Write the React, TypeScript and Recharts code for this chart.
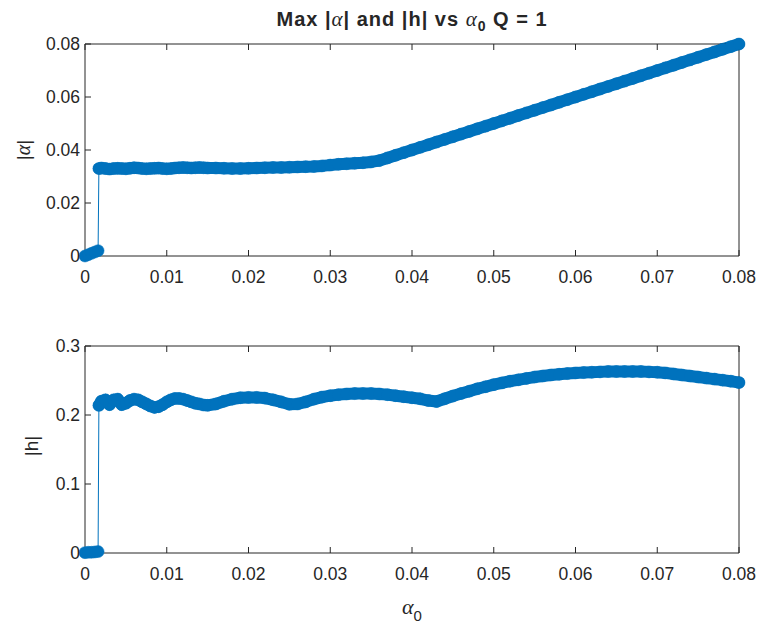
import React from 'react';
import { LineChart, Line, XAxis, YAxis } from 'recharts';

// alpha_0 sweep values (x axis)
const alpha0 = [
    0, 0.0004, 0.0008, 0.0012, 0.0016,
    0.0017,
    0.002, 0.0025, 0.003, 0.0035, 0.004, 0.0045, 0.005, 0.0055, 0.006, 0.0065,
    0.007, 0.0075, 0.008, 0.0085, 0.009, 0.0095, 0.01, 0.0105, 0.011, 0.0115,
    0.012, 0.0125, 0.013, 0.0135, 0.014, 0.0145, 0.015,
    0.016, 0.017, 0.018, 0.019, 0.02, 0.021, 0.022, 0.023, 0.024, 0.025,
    0.026, 0.027, 0.028, 0.029, 0.03, 0.031, 0.032, 0.033, 0.034, 0.035,
    0.036, 0.037, 0.038, 0.039, 0.04, 0.041, 0.042, 0.043, 0.044, 0.045,
    0.046, 0.047, 0.048, 0.049, 0.05, 0.051, 0.052, 0.053, 0.054, 0.055,
    0.056, 0.057, 0.058, 0.059, 0.06, 0.061, 0.062, 0.063, 0.064, 0.065,
    0.066, 0.067, 0.068, 0.069, 0.07, 0.071, 0.072, 0.073, 0.074, 0.075,
    0.076, 0.077, 0.078, 0.079, 0.08,
];

// max |alpha|
const maxAlpha = [
    0, 0.0005, 0.001, 0.0015, 0.002,
    0.033,
    0.0332, 0.033, 0.0328, 0.033, 0.0331, 0.033, 0.0329, 0.0331, 0.0333, 0.0332,
    0.033, 0.0329, 0.033, 0.0331, 0.0332, 0.033, 0.0329, 0.033, 0.0332, 0.0333,
    0.0334, 0.0333, 0.0332, 0.0333, 0.0334, 0.0333, 0.0332,
    0.0332, 0.0331, 0.033, 0.033, 0.0331, 0.0332, 0.0333, 0.0334, 0.0334, 0.0335,
    0.0336, 0.0337, 0.0338, 0.034, 0.0343, 0.0346, 0.0348, 0.035, 0.0352, 0.0355,
    0.036, 0.037, 0.038, 0.039, 0.04, 0.041, 0.042, 0.043, 0.044, 0.045,
    0.046, 0.047, 0.048, 0.049, 0.05, 0.051, 0.052, 0.053, 0.054, 0.055,
    0.056, 0.057, 0.058, 0.059, 0.06, 0.061, 0.062, 0.063, 0.064, 0.065,
    0.066, 0.067, 0.068, 0.069, 0.07, 0.071, 0.072, 0.073, 0.074, 0.075,
    0.076, 0.077, 0.078, 0.079, 0.08,
];

// max |h|
const maxH = [
    0.0005, 0.001, 0.001, 0.0015, 0.002,
    0.214,
    0.22, 0.222, 0.215, 0.222, 0.223, 0.215, 0.217, 0.221, 0.223, 0.222,
    0.219, 0.216, 0.213, 0.211, 0.212, 0.215, 0.219, 0.222, 0.224, 0.224,
    0.223, 0.221, 0.219, 0.217, 0.216, 0.2145, 0.214,
    0.216, 0.22, 0.223, 0.225, 0.2255, 0.2255, 0.2245, 0.222, 0.219, 0.2155,
    0.216, 0.219, 0.223, 0.226, 0.228, 0.2295, 0.2305, 0.231, 0.231, 0.231,
    0.2305, 0.2295, 0.228, 0.2265, 0.225, 0.2235, 0.221, 0.2195, 0.2235, 0.2275,
    0.231, 0.2345, 0.238, 0.241, 0.244, 0.2465, 0.249, 0.251, 0.253, 0.255,
    0.2565, 0.258, 0.259, 0.26, 0.261, 0.2615, 0.262, 0.2625, 0.263, 0.263,
    0.263, 0.263, 0.263, 0.2625, 0.262, 0.261, 0.2595, 0.258, 0.2565, 0.255,
    0.2535, 0.252, 0.2505, 0.249, 0.247,
];

// first sample after the jump (start of the dense marker band)
const jumpIndex = 5;

const xTicks = [0, 0.01, 0.02, 0.03, 0.04, 0.05, 0.06, 0.07, 0.08];
const alphaTicks = [0, 0.02, 0.04, 0.06, 0.08];
const hTicks = [0, 0.1, 0.2, 0.3];

const BLUE = '#0072BD';
const AXIS = '#262626';
const FONT = '"Liberation Sans", Arial, Helvetica, sans-serif';
const SERIF = '"Liberation Serif", "DejaVu Serif", serif';

const data = alpha0.map((x, i) => ({
    x,
    a: maxAlpha[i],
    h: maxH[i],
    aBand: i >= jumpIndex ? maxAlpha[i] : null,
    hBand: i >= jumpIndex ? maxH[i] : null,
}));

const tickFont = { fontSize: 17.5, fill: AXIS, fontFamily: FONT };
const blank = () => '';

interface PanelProps {
    dataKey: string;
    domain: [number, number];
    yTicks: number[];
    top: number;
    marginTop: number;
    marginBottom: number;
    height: number;
}

const Panel: React.FC<PanelProps> = ({ dataKey, domain, yTicks, top, marginTop, marginBottom, height }) => (
    <div style={{ position: 'absolute', left: 0, top }}>
        <LineChart
            width={759}
            height={height}
            data={data}
            margin={{ top: marginTop, right: 19, bottom: marginBottom, left: 45 }}
        >
            <XAxis
                xAxisId="b"
                dataKey="x"
                type="number"
                domain={[0, 0.08]}
                ticks={xTicks}
                interval={0}
                height={30}
                stroke={AXIS}
                tickSize={-6}
                tickMargin={21}
                tick={tickFont}
                tickFormatter={(v: number) => String(v)}
            />
            <XAxis
                xAxisId="t"
                orientation="top"
                dataKey="x"
                type="number"
                domain={[0, 0.08]}
                ticks={xTicks}
                interval={0}
                height={1}
                stroke={AXIS}
                tickSize={-6}
                tickFormatter={blank}
            />
            <YAxis
                yAxisId="l"
                type="number"
                domain={domain}
                ticks={yTicks}
                interval={0}
                width={40}
                stroke={AXIS}
                tickSize={-6}
                tickMargin={11}
                tick={tickFont}
                tickFormatter={(v: number) => String(v)}
            />
            <YAxis
                yAxisId="r"
                orientation="right"
                type="number"
                domain={domain}
                ticks={yTicks}
                interval={0}
                width={1}
                stroke={AXIS}
                tickSize={-6}
                tickFormatter={blank}
            />
            {/* dense overlapping 'o' markers form a solid band */}
            <Line
                xAxisId="b"
                yAxisId="l"
                type="linear"
                dataKey={dataKey + 'Band'}
                stroke={BLUE}
                strokeWidth={12}
                strokeLinejoin="round"
                strokeLinecap="round"
                dot={false}
                activeDot={false}
                connectNulls={false}
                isAnimationActive={false}
            />
            <Line
                xAxisId="b"
                yAxisId="l"
                type="linear"
                dataKey={dataKey}
                stroke={BLUE}
                strokeWidth={1}
                dot={{ r: 6, fill: BLUE, stroke: BLUE, strokeWidth: 0.5 }}
                isAnimationActive={false}
            />
        </LineChart>
    </div>
);

const alphaSym = (size: number) => (
    <span style={{ fontFamily: SERIF, fontStyle: 'italic', fontWeight: 'normal', fontSize: size }}>α</span>
);

export default function App() {
    return (
        <div style={{ position: 'absolute', left: 0, top: 0, width: 759, height: 628, background: '#fff', fontFamily: FONT, color: AXIS }}>
            <Panel dataKey="a" domain={[0, 0.08]} yTicks={alphaTicks} top={0} height={300} marginTop={43} marginBottom={14} />
            <Panel dataKey="h" domain={[0, 0.3]} yTicks={hTicks} top={300} height={328} marginTop={45} marginBottom={45} />

            {/* title */}
            <div style={{ position: 'absolute', left: 85, width: 654, top: 7, textAlign: 'center', fontWeight: 'bold', fontSize: 20, letterSpacing: 1, lineHeight: '24px', whiteSpace: 'nowrap' }}>
                Max |{alphaSym(21)}| and |h| vs {alphaSym(21)}<sub style={{ fontSize: 14, verticalAlign: '-5px' }}>0</sub> Q = 1
            </div>

            {/* y labels */}
            <div style={{ position: 'absolute', left: 23, top: 150, transform: 'translate(-50%, -50%) rotate(-90deg)', fontSize: 19, whiteSpace: 'nowrap' }}>
                |{alphaSym(20)}|
            </div>
            <div style={{ position: 'absolute', left: 32, top: 446, transform: 'translate(-50%, -50%) rotate(-90deg)', fontSize: 19, whiteSpace: 'nowrap' }}>
                |h|
            </div>

            {/* x label */}
            <div style={{ position: 'absolute', left: 85, width: 654, top: 596, textAlign: 'center', fontSize: 18, lineHeight: '22px', whiteSpace: 'nowrap' }}>
                {alphaSym(22)}<sub style={{ fontSize: 15, verticalAlign: '-7px' }}>0</sub>
            </div>
        </div>
    );
}
